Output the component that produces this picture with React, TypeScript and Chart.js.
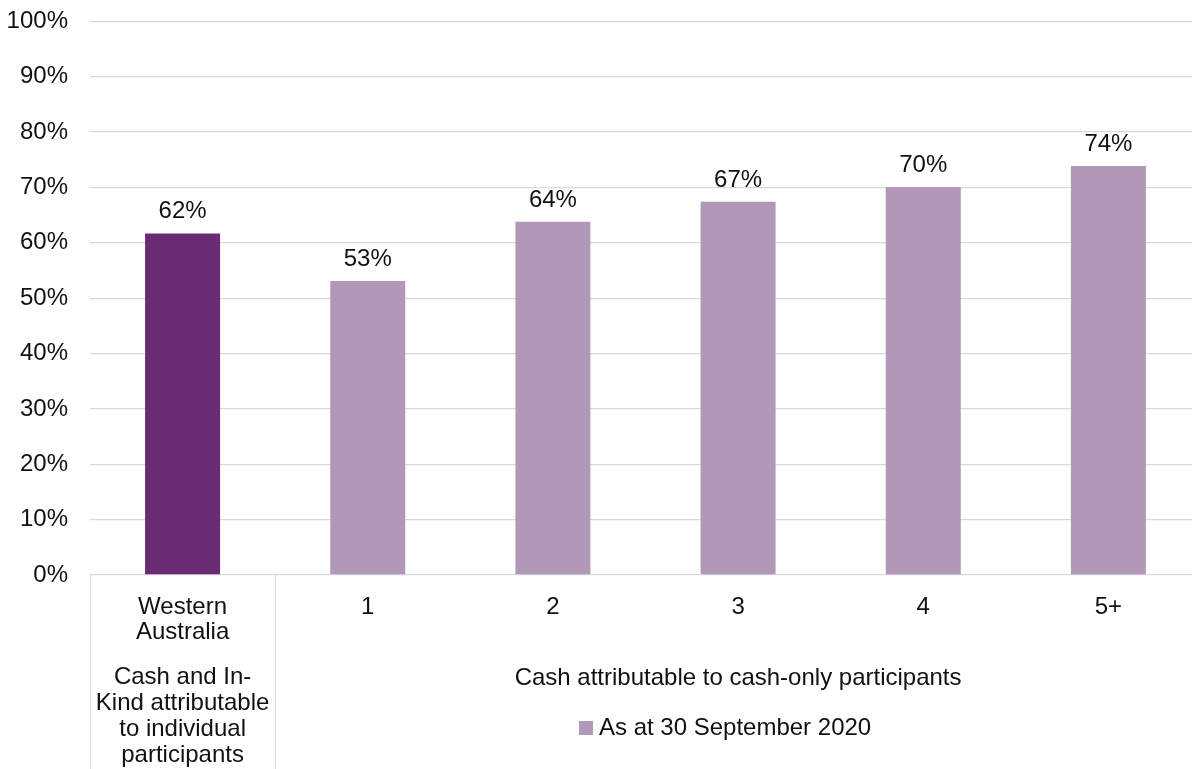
import React, { useEffect, useRef } from "react";
import { Chart, registerables } from "chart.js";

Chart.register(...registerables);

const categories: (string | string[])[] = [["Western", "Australia"], "1", "2", "3", "4", "5+"];
const values = [61.7, 53.1, 63.8, 67.4, 70.1, 73.9];
const valueLabels = ["62%", "53%", "64%", "67%", "70%", "74%"];
const barColors = ["#6B2A74", "#B197B8", "#B197B8", "#B197B8", "#B197B8", "#B197B8"];
const seriesLabel = "As at 30 September 2020";
const seriesColor = "#B197B8";
const groupWA = ["Cash and In-", "Kind attributable", "to individual", "participants"];
const groupCash = "Cash attributable to cash-only participants";
const yTicks = [0, 10, 20, 30, 40, 50, 60, 70, 80, 90, 100];

const FONT = "'Liberation Sans', Arial, sans-serif";
const FS = 24;
const TEXT = "#111111";
const GRID = "#D9D9D9";

const overlay = {
  id: "overlay",
  afterDatasetsDraw(chart: any) {
    const ctx = chart.ctx;
    const xs = chart.scales.x;
    const ys = chart.scales.y;
    const meta = chart.getDatasetMeta(0);
    ctx.save();
    ctx.font = `${FS}px ${FONT}`;
    ctx.fillStyle = TEXT;
    ctx.textAlign = "center";
    ctx.textBaseline = "middle";
    meta.data.forEach((bar: any, i: number) => {
      ctx.fillText(valueLabels[i], bar.x, bar.y - 21.6);
    });
    const base = ys.getPixelForValue(0);
    const half = (xs.getPixelForValue(1) - xs.getPixelForValue(0)) / 2;
    const b0 = xs.getPixelForValue(0) - half;
    const b1 = xs.getPixelForValue(0) + half;
    const bEnd = xs.getPixelForValue(categories.length - 1) + half;
    ctx.strokeStyle = GRID;
    ctx.lineWidth = 1;
    [b0, b1, bEnd].forEach((bx) => {
      const px = Math.round(bx) + 0.5;
      ctx.beginPath();
      ctx.moveTo(px, base);
      ctx.lineTo(px, chart.height);
      ctx.stroke();
    });
    const cWA = xs.getPixelForValue(0);
    groupWA.forEach((t, i) => {
      ctx.fillText(t, cWA, base + 102 + i * 26);
    });
    const cCash = (b1 + bEnd) / 2;
    ctx.fillText(groupCash, cCash, base + 103);
    ctx.textAlign = "left";
    const tw = ctx.measureText(seriesLabel).width;
    const sw = 14;
    const gap = 6;
    const total = sw + gap + tw;
    const lx = cCash - total / 2 - 13;
    const ly = base + 153;
    ctx.fillStyle = seriesColor;
    ctx.fillRect(lx, ly - 7, sw, 14);
    ctx.fillStyle = TEXT;
    ctx.fillText(seriesLabel, lx + sw + gap, ly);
    ctx.restore();
  },
};

export default function App() {
  const ref = useRef<HTMLCanvasElement>(null);
  useEffect(() => {
    if (!ref.current) return;
    const chart = new Chart(ref.current, {
      type: "bar",
      data: {
        labels: categories,
        datasets: [
          {
            label: seriesLabel,
            data: values,
            backgroundColor: barColors,
            categoryPercentage: 1,
            barPercentage: 0.405,
          },
        ],
      },
      options: {
        animation: false,
        responsive: true,
        maintainAspectRatio: false,
        layout: { padding: { top: 0, right: 7, bottom: 137, left: 0 } },
        plugins: {
          legend: { display: false },
          tooltip: { enabled: false },
        },
        scales: {
          x: {
            afterFit: (s: any) => {
              s.height = 71;
            },
            grid: { display: false, drawTicks: false },
            border: { display: false },
            ticks: {
              padding: 20,
              color: TEXT,
              font: { family: FONT, size: FS, lineHeight: 1.04 },
              maxRotation: 0,
              autoSkip: false,
            },
          },
          y: {
            min: 0,
            max: 100,
            afterFit: (s: any) => {
              s.width = 82;
            },
            afterBuildTicks: (s: any) => {
              s.ticks = yTicks.map((v) => ({ value: v }));
            },
            grid: { color: GRID, drawTicks: false, lineWidth: 1.3 },
            border: { display: false },
            ticks: {
              padding: 22,
              color: TEXT,
              font: { family: FONT, size: FS },
              callback: (v: any) => v + "%",
            },
          },
        },
      },
      plugins: [overlay],
    });
    return () => chart.destroy();
  }, []);
  return (
    <div style={{ position: "fixed", left: 0, top: 0, width: 1192, height: 769, overflow: "hidden", background: "#fff" }}>
      <div style={{ position: "absolute", left: 8, top: -15, width: 1200, height: 798 }}>
        <canvas ref={ref} />
      </div>
    </div>
  );
}
